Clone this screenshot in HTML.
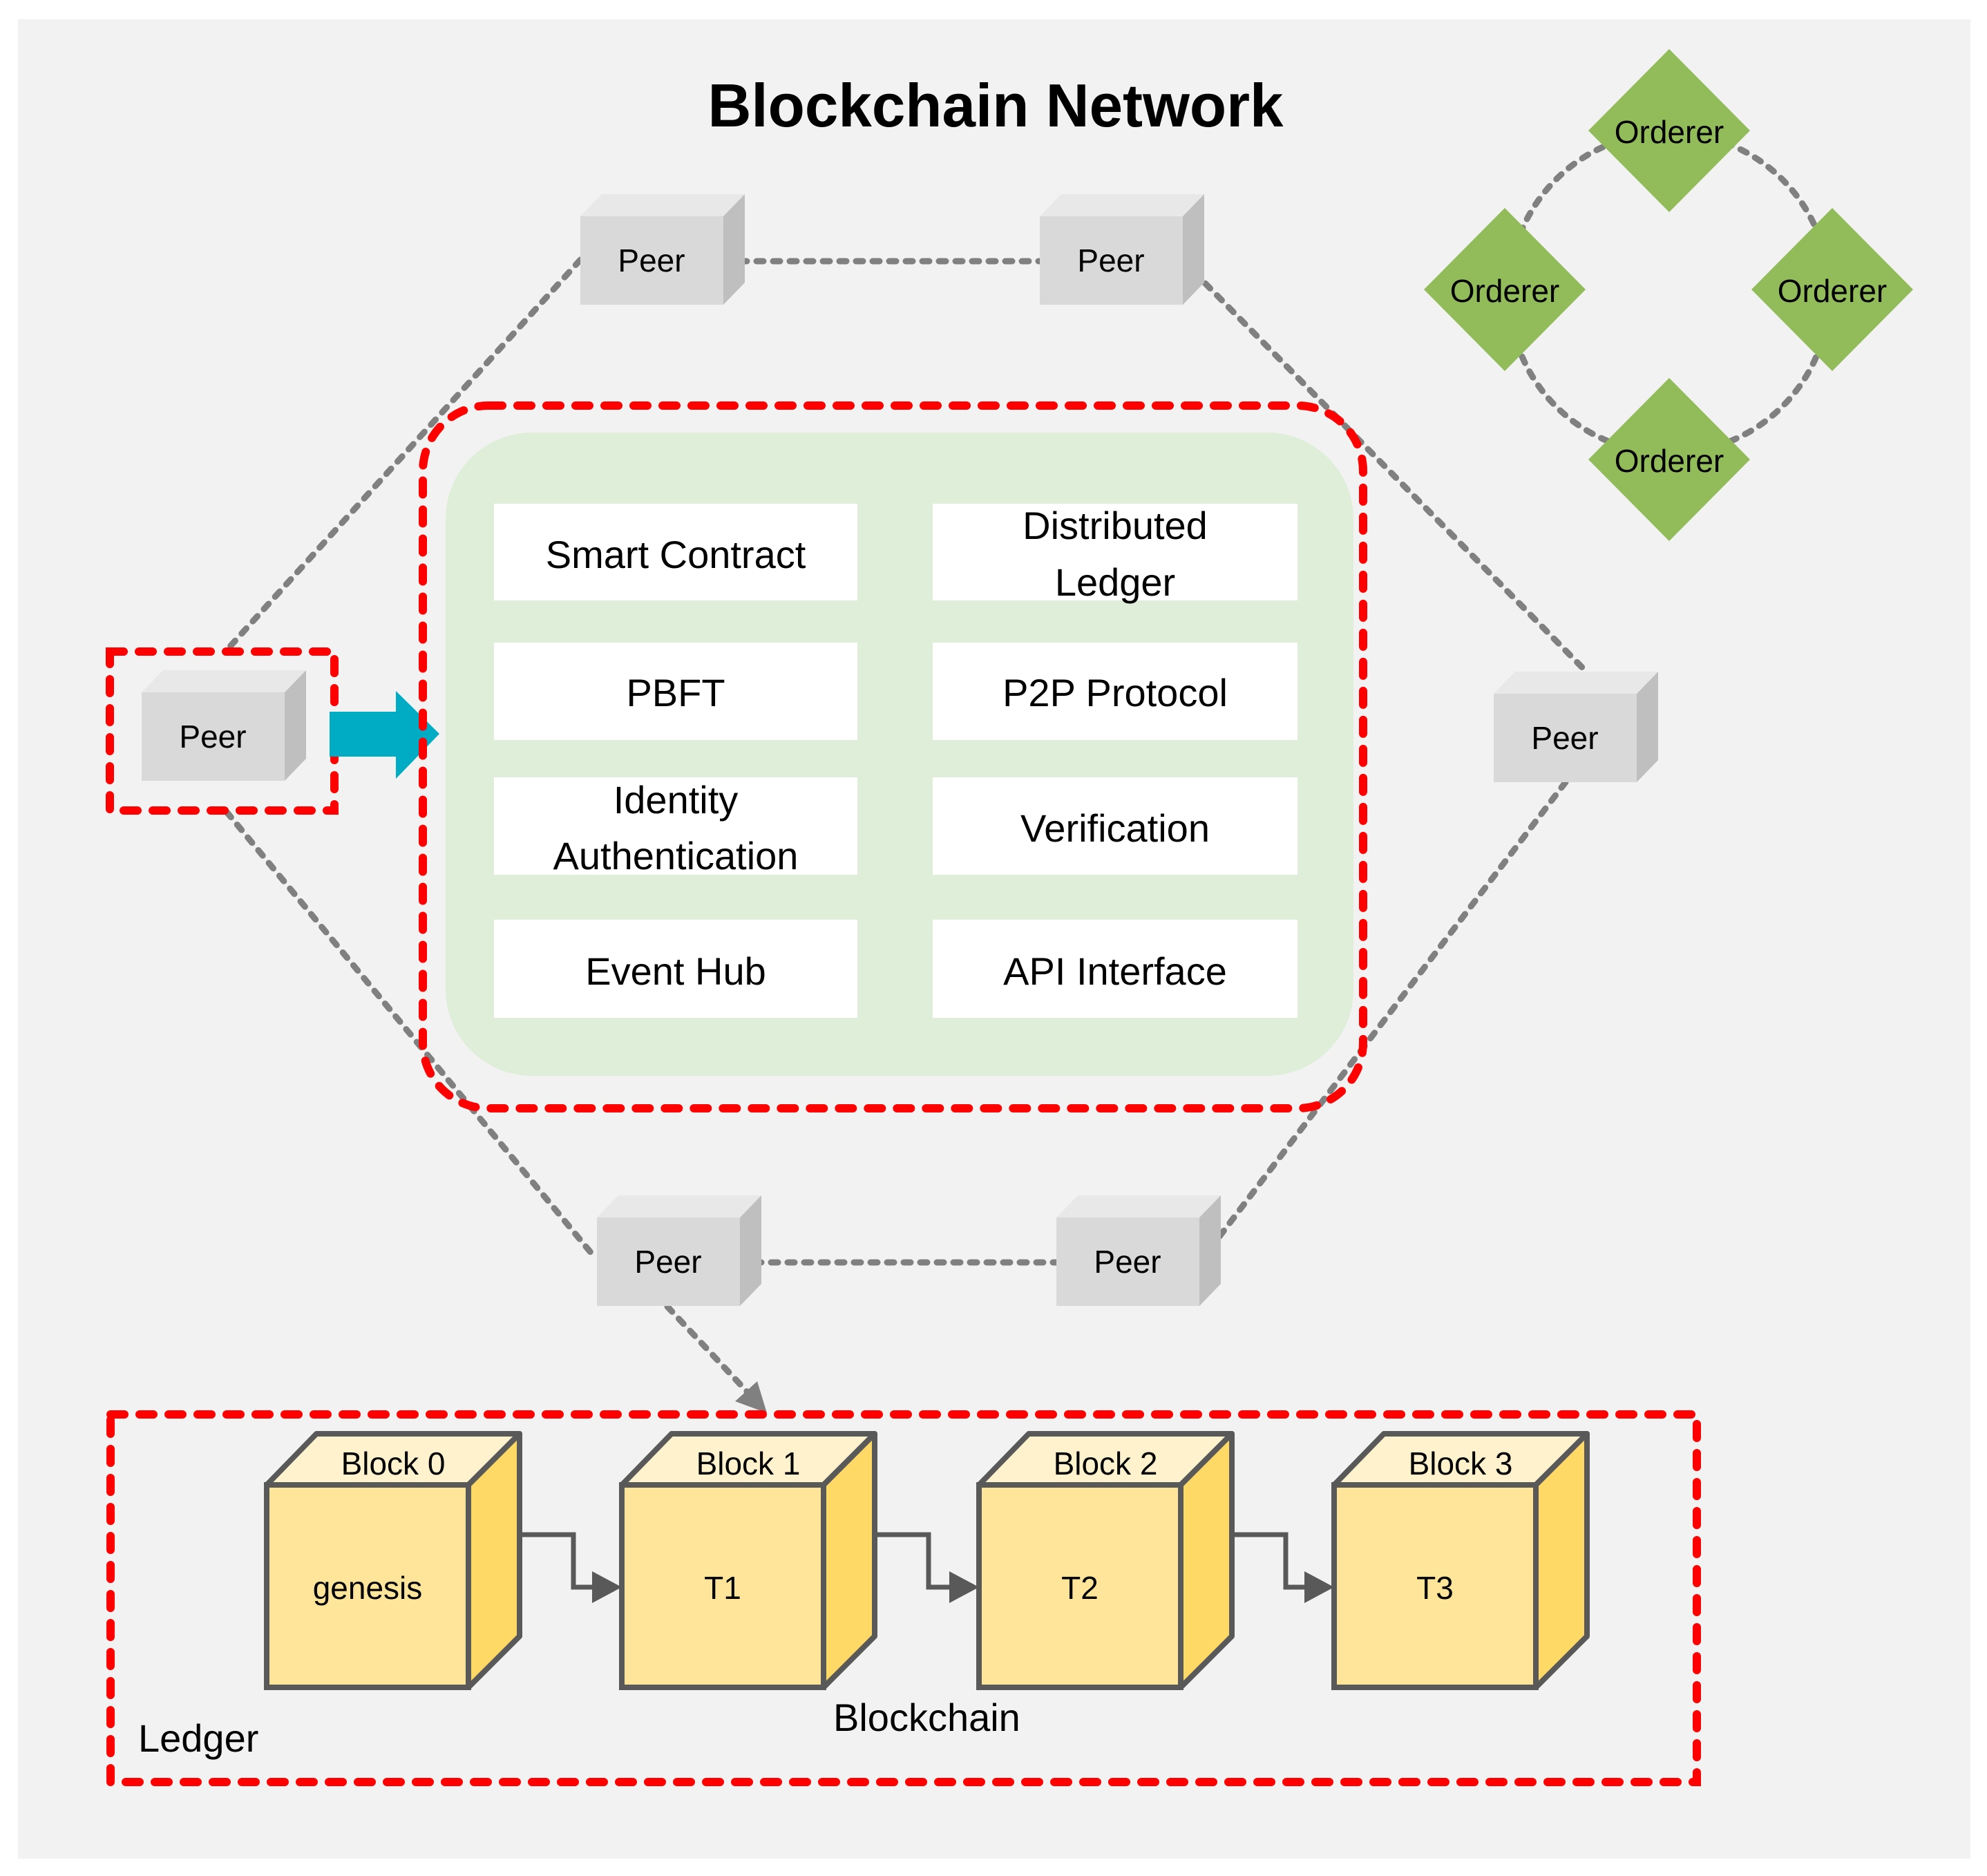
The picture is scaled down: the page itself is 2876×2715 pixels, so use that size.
<!DOCTYPE html>
<html><head><meta charset="utf-8"><style>html,body{margin:0;padding:0;background:#fff}svg{display:block}</style></head>
<body>
<svg width="2876" height="2715" viewBox="0 0 2876 2715" xmlns="http://www.w3.org/2000/svg" font-family="'Liberation Sans', sans-serif">
<defs>
<g id="peer">
<polygon points="0,0 31,-32 238,-32 207,0" fill="#e8e8e8"/>
<polygon points="207,0 238,-32 238,96 207,128" fill="#bfbfbf"/>
<rect x="0" y="0" width="207" height="128" fill="#d9d9d9"/>
<text x="103" y="80" font-size="46" text-anchor="middle" fill="#000">Peer</text>
</g>
<g id="blk">
<polygon points="0,0 72,-74 366,-74 292,0" fill="#fff2cc" stroke="#595959" stroke-width="8" stroke-linejoin="round"/>
<polygon points="292,0 366,-74 366,219 292,293" fill="#ffd966" stroke="#595959" stroke-width="8" stroke-linejoin="round"/>
<rect x="0" y="0" width="292" height="293" fill="#fee599" stroke="#595959" stroke-width="8"/>
</g>
</defs>
<rect x="0" y="0" width="2876" height="2715" fill="#fff"/>
<rect x="26" y="28" width="2826" height="2662" fill="#f2f2f2"/>

<text x="1441" y="183" font-size="88" font-weight="bold" text-anchor="middle" textLength="833" lengthAdjust="spacingAndGlyphs">Blockchain Network</text>

<!-- gray dashed connectors -->
<g stroke="#808080" stroke-width="9" stroke-dasharray="10 14" stroke-linecap="round" fill="none">
<line x1="840" y1="376" x2="328" y2="941"/>
<line x1="1047" y1="378" x2="1507" y2="378"/>
<line x1="1711" y1="376" x2="2297" y2="973"/>
<line x1="2266" y1="1132" x2="1741" y2="1821"/>
<line x1="328" y1="1175" x2="862" y2="1821"/>
<line x1="1068" y1="1827" x2="1530" y2="1827"/>
<line x1="966" y1="1891" x2="1085" y2="2018"/>
<circle cx="2416" cy="424" r="232"/>
</g>
<polygon points="1110,2045 1064,2028 1096,1999" fill="#808080"/>

<!-- orderers -->
<g fill="#92bc5a">
<polygon points="2416,71 2533,189 2416,307 2299,189"/>
<polygon points="2178,301 2295,419 2178,537 2061,419"/>
<polygon points="2652,301 2769,419 2652,537 2535,419"/>
<polygon points="2416,547 2533,665 2416,783 2299,665"/>
</g>
<g font-size="46" text-anchor="middle" fill="#000">
<text x="2416" y="207">Orderer</text>
<text x="2178" y="437">Orderer</text>
<text x="2652" y="437">Orderer</text>
<text x="2416" y="683">Orderer</text>
</g>

<!-- peers -->
<use href="#peer" x="840" y="313"/>
<use href="#peer" x="1505" y="313"/>
<use href="#peer" x="205" y="1002"/>
<use href="#peer" x="2162" y="1004"/>
<use href="#peer" x="864" y="1762"/>
<use href="#peer" x="1529" y="1762"/>

<!-- red box around left peer -->
<rect x="159" y="943" width="325" height="230" fill="none" stroke="#ff0000" stroke-width="12" stroke-dasharray="20 22" stroke-linecap="round"/>

<!-- cyan arrow -->
<polygon points="477,1030 573,1030 573,1000 636,1062 573,1127 573,1095 477,1095" fill="#00acc4"/>

<!-- green panel -->
<rect x="645" y="626" width="1314" height="931" rx="125" ry="125" fill="#deeed8"/>
<rect x="612" y="587" width="1361" height="1017" rx="95" ry="95" fill="none" stroke="#ff0000" stroke-width="12" stroke-dasharray="20 22" stroke-linecap="round"/>

<g fill="#fff">
<rect x="715" y="729" width="526" height="140"/>
<rect x="1350" y="729" width="528" height="140"/>
<rect x="715" y="930" width="526" height="141"/>
<rect x="1350" y="930" width="528" height="141"/>
<rect x="715" y="1125" width="526" height="141"/>
<rect x="1350" y="1125" width="528" height="141"/>
<rect x="715" y="1331" width="526" height="142"/>
<rect x="1350" y="1331" width="528" height="142"/>
</g>
<g font-size="56" text-anchor="middle" fill="#000">
<text x="978" y="822">Smart Contract</text>
<text x="1614" y="780">Distributed</text>
<text x="1614" y="862">Ledger</text>
<text x="978" y="1022">PBFT</text>
<text x="1614" y="1022">P2P Protocol</text>
<text x="978" y="1177">Identity</text>
<text x="978" y="1258">Authentication</text>
<text x="1614" y="1218">Verification</text>
<text x="978" y="1425">Event Hub</text>
<text x="1614" y="1425">API Interface</text>
</g>

<!-- ledger box -->
<rect x="160" y="2047" width="2296" height="532" fill="none" stroke="#ff0000" stroke-width="12" stroke-dasharray="20 22" stroke-linecap="round"/>

<!-- blocks -->
<use href="#blk" x="386" y="2149"/>
<use href="#blk" x="900" y="2149"/>
<use href="#blk" x="1417" y="2149"/>
<use href="#blk" x="1931" y="2149"/>
<g font-size="46" text-anchor="middle" fill="#000">
<text x="569" y="2134">Block 0</text>
<text x="1083" y="2134">Block 1</text>
<text x="1600" y="2134">Block 2</text>
<text x="2114" y="2134">Block 3</text>
<text x="532" y="2314">genesis</text>
<text x="1046" y="2314">T1</text>
<text x="1563" y="2314">T2</text>
<text x="2077" y="2314">T3</text>
</g>
<g stroke="#595959" stroke-width="7" fill="none">
<polyline points="752,2221 830,2221 830,2297 860,2297"/>
<polyline points="1266,2221 1344,2221 1344,2297 1377,2297"/>
<polyline points="1783,2221 1861,2221 1861,2297 1891,2297"/>
</g>
<g fill="#595959">
<polygon points="857,2274 900,2297 857,2320"/>
<polygon points="1374,2274 1417,2297 1374,2320"/>
<polygon points="1888,2274 1931,2297 1888,2320"/>
</g>

<text x="1206" y="2505" font-size="56" fill="#000">Blockchain</text>
<text x="200" y="2535" font-size="56" fill="#000">Ledger</text>
</svg>
</body></html>
